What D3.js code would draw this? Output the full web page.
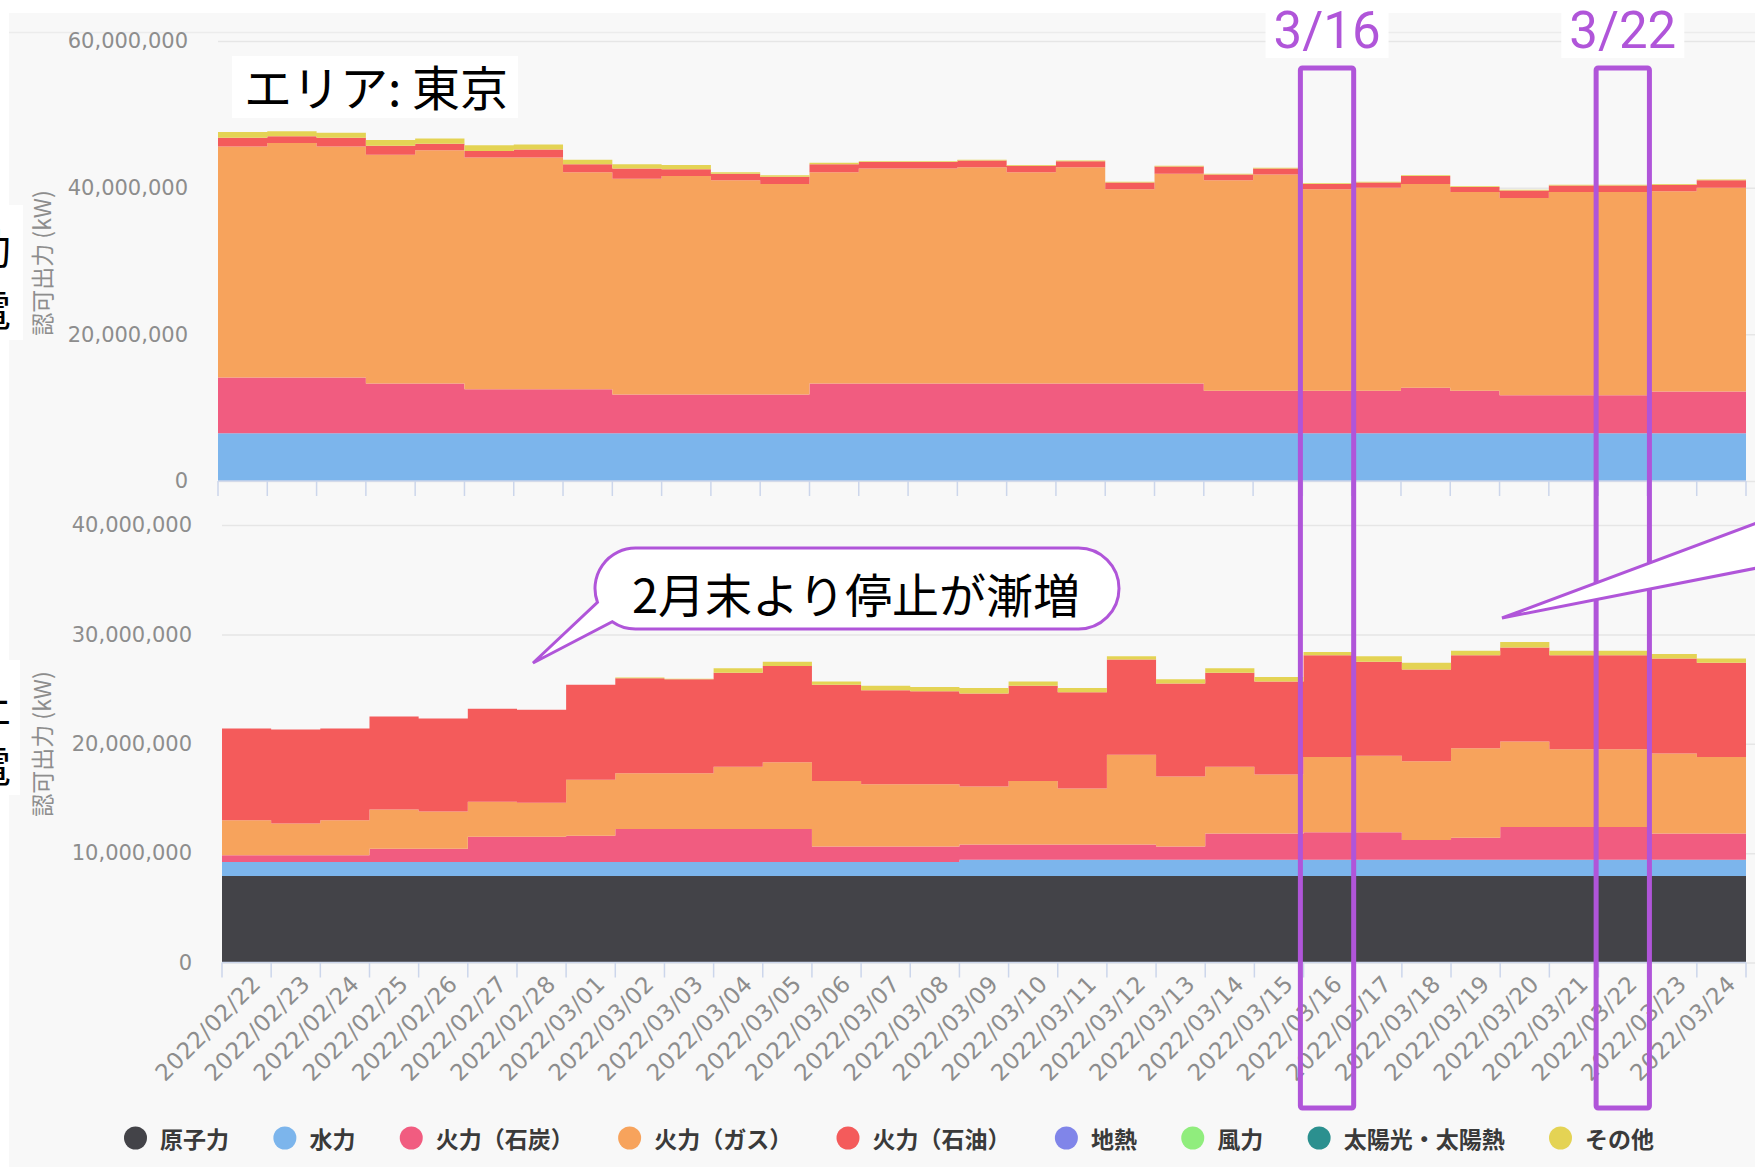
<!DOCTYPE html>
<html>
<head>
<meta charset="utf-8">
<script src="https://cdn.jsdelivr.net/npm/d3@7"></script>
<style>
html,body{margin:0;padding:0;background:#fff;}
svg{display:block;}
</style>
</head>
<body>
<svg id="c" width="1755" height="1167"></svg>
<script>
// ---------------- DATA ----------------
const dates = ["2022/02/22","2022/02/23","2022/02/24","2022/02/25","2022/02/26","2022/02/27","2022/02/28",
  "2022/03/01","2022/03/02","2022/03/03","2022/03/04","2022/03/05","2022/03/06","2022/03/07","2022/03/08",
  "2022/03/09","2022/03/10","2022/03/11","2022/03/12","2022/03/13","2022/03/14","2022/03/15","2022/03/16",
  "2022/03/17","2022/03/18","2022/03/19","2022/03/20","2022/03/21","2022/03/22","2022/03/23","2022/03/24"];

const seriesNames = ["原子力","水力","火力（石炭）","火力（ガス）","火力（石油）","地熱","風力","太陽光・太陽熱","その他"];
const seriesColors = ["#434348","#7cb5ec","#f15c80","#f7a35c","#f45b5b","#8085e9","#90ed7d","#2b908f","#e4d354"];

// Top chart (稼動) — values in million kW
const opNuclear = [0,0,0,0,0,0,0,0,0,0,0,0,0,0,0,0,0,0,0,0,0,0,0,0,0,0,0,0,0,0,0];
const opHydro   = [6.5,6.5,6.5,6.5,6.5,6.5,6.5,6.5,6.5,6.5,6.5,6.5,6.5,6.5,6.5,6.5,6.5,6.5,6.5,6.5,6.5,6.5,6.5,6.5,6.5,6.5,6.5,6.5,6.5,6.5,6.5];
const opCoal    = [7.6,7.6,7.6,6.8,6.8,6.0,6.0,6.0,5.3,5.3,5.3,5.3,6.8,6.8,6.8,6.8,6.8,6.8,6.8,6.8,5.8,5.8,5.8,5.8,6.2,5.8,5.2,5.2,5.2,5.7,5.7];
const opGas     = [31.5,32.0,31.5,31.2,31.8,31.6,31.6,29.6,29.4,29.8,29.2,28.7,28.8,29.3,29.3,29.5,28.8,29.5,26.5,28.6,28.7,29.5,27.5,27.7,27.8,27.1,26.9,27.7,27.7,27.3,27.8];
const opOil     = [1.2,0.9,1.2,1.2,0.9,0.9,1.1,1.1,1.4,0.9,0.9,1.0,1.1,0.9,0.9,0.9,0.9,0.8,0.9,1.0,0.8,0.8,0.7,0.7,1.1,0.7,1.0,0.9,0.9,0.9,1.0];
const opGeo     = [0,0,0,0,0,0,0,0,0,0,0,0,0,0,0,0,0,0,0,0,0,0,0,0,0,0,0,0,0,0,0];
const opWind    = [0,0,0,0,0,0,0,0,0,0,0,0,0,0,0,0,0,0,0,0,0,0,0,0,0,0,0,0,0,0,0];
const opSolar   = [0,0,0,0,0,0,0,0,0,0,0,0,0,0,0,0,0,0,0,0,0,0,0,0,0,0,0,0,0,0,0];
const opOther   = [0.8,0.7,0.7,0.8,0.7,0.8,0.7,0.6,0.6,0.6,0.2,0.2,0.2,0.1,0.1,0.1,0.1,0.1,0.1,0.1,0.1,0.1,0.1,0.1,0.1,0.1,0.1,0.1,0.1,0.1,0.1];

// Bottom chart (停止) — values in million kW
const stNuclear = [7.9,7.9,7.9,7.9,7.9,7.9,7.9,7.9,7.9,7.9,7.9,7.9,7.9,7.9,7.9,7.9,7.9,7.9,7.9,7.9,7.9,7.9,7.9,7.9,7.9,7.9,7.9,7.9,7.9,7.9,7.9];
const stHydro   = [1.3,1.3,1.3,1.3,1.3,1.3,1.3,1.3,1.3,1.3,1.3,1.3,1.3,1.3,1.3,1.5,1.5,1.5,1.5,1.5,1.5,1.5,1.5,1.5,1.5,1.5,1.5,1.5,1.5,1.5,1.5];
const stCoal    = [0.6,0.6,0.6,1.2,1.2,2.3,2.3,2.4,3.0,3.0,3.0,3.0,1.4,1.4,1.4,1.4,1.4,1.4,1.4,1.2,2.4,2.4,2.5,2.5,1.8,2.0,3.0,3.0,3.0,2.4,2.4];
const stGas     = [3.2,2.9,3.2,3.6,3.4,3.2,3.1,5.1,5.1,5.1,5.7,6.1,6.0,5.7,5.7,5.3,5.8,5.1,8.2,6.4,6.1,5.4,6.9,7.0,7.2,8.2,7.8,7.1,7.1,7.3,7.0];
const stOil     = [8.4,8.6,8.4,8.5,8.5,8.5,8.5,8.7,8.7,8.6,8.6,8.8,8.8,8.6,8.5,8.5,8.7,8.8,8.7,8.5,8.6,8.5,9.3,8.6,8.4,8.5,8.6,8.6,8.6,8.7,8.6];
const stGeo     = [0,0,0,0,0,0,0,0,0,0,0,0,0,0,0,0,0,0,0,0,0,0,0,0,0,0,0,0,0,0,0];
const stWind    = [0,0,0,0,0,0,0,0,0,0,0,0,0,0,0,0,0,0,0,0,0,0,0,0,0,0,0,0,0,0,0];
const stSolar   = [0,0,0,0,0,0,0,0,0,0,0,0,0,0,0,0,0,0,0,0,0,0,0,0,0,0,0,0,0,0,0];
const stOther   = [0,0,0,0,0,0,0,0,0.05,0.05,0.4,0.4,0.3,0.4,0.4,0.5,0.4,0.4,0.3,0.4,0.4,0.4,0.3,0.5,0.6,0.4,0.5,0.4,0.4,0.4,0.4];

const topTicks = [0, 20000000, 40000000, 60000000];
const bottomTicks = [0, 10000000, 20000000, 30000000, 40000000];

const areaTitle = "エリア: 東京";
const yTitle = "認可出力 (kW)";
const noteText = "2月末より停止が漸増";
const highlightDates = ["2022/03/16", "2022/03/22"];
const highlightLabels = ["3/16", "3/22"];

// ---------------- DRAW ----------------
const W = 1755, H = 1167;
const PURPLE = "#b055d9";
const svg = d3.select("#c");

svg.append("rect").attr("width", W).attr("height", H).attr("fill", "#fff");
svg.append("rect").attr("x", 9).attr("y", 13).attr("width", W - 9).attr("height", H - 13).attr("fill", "#f8f8f8");
svg.append("line").attr("x1", 9).attr("x2", W).attr("y1", 32.5).attr("y2", 32.5)
  .attr("stroke", "#ececec").attr("stroke-width", 1.5);

function buildTable(arrs) {
  return dates.map((d, i) => {
    const row = { date: d };
    seriesNames.forEach((s, k) => row[s] = arrs[k][i] * 1e6);
    return row;
  });
}

const charts = [
  { table: buildTable([opNuclear, opHydro, opCoal, opGas, opOil, opGeo, opWind, opSolar, opOther]),
    x0: 218, x1: 1746, yb: 481, yt: 41, max: 60000000, ticks: topTicks, labels: false, titleY: 263 },
  { table: buildTable([stNuclear, stHydro, stCoal, stGas, stOil, stGeo, stWind, stSolar, stOther]),
    x0: 222, x1: 1746, yb: 962.5, yt: 525, max: 40000000, ticks: bottomTicks, labels: true, titleY: 744 }
];

const fmt = d3.format(",");
const scales = [];

charts.forEach(c => {
  const x = d3.scaleLinear().domain([0, dates.length]).range([c.x0, c.x1]);
  const band = d3.scaleBand().domain(dates).range([c.x0, c.x1]).padding(0);
  const y = d3.scaleLinear().domain([0, c.max]).range([c.yb, c.yt]);
  scales.push({ x, band, y });

  // y axis with gridlines
  const ya = svg.append("g").attr("transform", `translate(${c.x0},0)`)
    .call(d3.axisLeft(y).tickValues(c.ticks).tickFormat(fmt).tickSize(-(W - c.x0)).tickPadding(30));
  ya.select(".domain").remove();
  ya.selectAll(".tick line").attr("stroke", "#e6e6e6").attr("stroke-width", 1.5);
  ya.selectAll(".tick text").attr("fill", "#8d8d8d")
    .style("font-family", "'DejaVu Sans', sans-serif").style("font-size", "21px");

  // y title
  svg.append("text").attr("transform", `translate(41,${c.titleY}) rotate(-90)`)
    .attr("text-anchor", "middle").attr("dominant-baseline", "central")
    .attr("fill", "#8d8d8d").style("font-family", "'Noto Sans CJK JP', sans-serif").style("font-size", "23px")
    .text(yTitle);

  // stacked step areas
  const stacked = d3.stack().keys(seriesNames)(c.table);
  const area = d3.area()
    .x(d => x(d.i)).y0(d => y(d.lo)).y1(d => y(d.hi))
    .curve(d3.curveStepAfter);
  stacked.forEach((layer, k) => {
    const pts = layer.map((d, i) => ({ i, lo: d[0], hi: d[1] }));
    const last = pts[pts.length - 1];
    pts.push({ i: dates.length, lo: last.lo, hi: last.hi });
    svg.append("path").attr("d", area(pts)).attr("fill", seriesColors[k]);
  });

  // x axis line and ticks
  svg.append("line").attr("x1", c.x0).attr("x2", c.x1).attr("y1", c.yb).attr("y2", c.yb)
    .attr("stroke", "#ccd6eb").attr("stroke-width", 1.5);
  svg.append("g").selectAll("line").data(d3.range(dates.length + 1)).join("line")
    .attr("x1", i => x(i)).attr("x2", i => x(i))
    .attr("y1", c.yb).attr("y2", c.yb + 15)
    .attr("stroke", "#ccd6eb").attr("stroke-width", 1.5);

  if (c.labels) {
    const xa = svg.append("g").attr("transform", `translate(0,${c.yb})`)
      .call(d3.axisBottom(band).tickSize(0));
    xa.select(".domain").remove();
    xa.selectAll(".tick text")
      .attr("x", 0).attr("y", 0).attr("dy", "0.35em")
      .attr("text-anchor", "end")
      .attr("transform", "translate(10,17) rotate(-45)")
      .attr("fill", "#8d8d8d")
      .style("font-family", "'DejaVu Sans', sans-serif").style("font-size", "23px")
      .style("letter-spacing", "0.5px");
  }
});

// legend
const lg = svg.append("g").style("font-family", "'Noto Sans CJK JP', sans-serif")
  .style("font-size", "23px").style("font-weight", "bold");
const legendY = 1138;
const tmp = lg.append("text").attr("opacity", 0);
const widths = seriesNames.map(s => { tmp.text(s); return tmp.node().getComputedTextLength(); });
tmp.remove();
const lgStart = 124, lgEnd = 1654, txtOff = 36;
const gap = (lgEnd - lgStart - txtOff * seriesNames.length - d3.sum(widths)) / (seriesNames.length - 1);
let lx = lgStart;
seriesNames.forEach((s, k) => {
  lg.append("circle").attr("cx", lx + 11.5).attr("cy", legendY).attr("r", 11.5).attr("fill", seriesColors[k]);
  lg.append("text").attr("x", lx + txtOff).attr("y", legendY).attr("dominant-baseline", "central")
    .attr("fill", "#3a3a3a").text(s);
  lx += txtOff + widths[k] + gap;
});

// area title box
svg.append("rect").attr("x", 232).attr("y", 56).attr("width", 286).attr("height", 62).attr("fill", "#fff");
svg.append("text").attr("x", 244).attr("y", 106).attr("fill", "#000")
  .style("font-family", "'Noto Sans CJK JP', sans-serif").style("font-size", "48px").text(areaTitle);

// speech bubble (left)
{
  const x0 = 595, x1 = 1119, y0 = 548, y1 = 629, r = (y1 - y0) / 2;
  const cx = x0 + r, cy = y0 + r;
  const pt = a => [cx + r * Math.cos(a * Math.PI / 180), cy + r * Math.sin(a * Math.PI / 180)];
  const b2 = pt(125), b1 = pt(160);
  const tip = [533, 663];
  const d = `M${x0 + r},${y0} L${x1 - r},${y0} A${r},${r} 0 0 1 ${x1 - r},${y1} L${x0 + r},${y1} ` +
    `A${r},${r} 0 0 1 ${b2[0]},${b2[1]} L${tip[0]},${tip[1]} L${b1[0]},${b1[1]} ` +
    `A${r},${r} 0 0 1 ${x0 + r},${y0} Z`;
  svg.append("path").attr("d", d).attr("fill", "#fff").attr("stroke", PURPLE).attr("stroke-width", 3)
    .attr("stroke-linejoin", "miter");
  svg.append("text").attr("x", (x0 + x1) / 2 - 1).attr("y", 613).attr("text-anchor", "middle").attr("fill", "#000")
    .style("font-family", "'Noto Sans CJK JP', sans-serif").style("font-size", "47px").text(noteText);
}

// highlight rectangles and labels
const sTop = scales[0];
highlightDates.forEach((d, k) => {
  const i = dates.indexOf(d);
  const xa = sTop.x(i), xb = sTop.x(i + 1);
  svg.append("rect").attr("x", xa - 2).attr("y", 68).attr("width", xb - xa + 4).attr("height", 1040)
    .attr("fill", "none").attr("stroke", PURPLE).attr("stroke-width", 5).attr("rx", 2);
  const cxm = (xa + xb) / 2;
  const g = svg.append("g");
  const t = g.append("text").attr("x", cxm).attr("y", 48).attr("text-anchor", "middle").attr("fill", PURPLE)
    .style("font-family", "Roboto, sans-serif").style("font-size", "51px").text(highlightLabels[k]);
  const bb = t.node().getBBox();
  g.insert("rect", "text").attr("x", bb.x - 8).attr("y", 0).attr("width", bb.width + 16).attr("height", 58).attr("fill", "#fff");
});

// speech bubble tail (right, bubble itself off-canvas)
svg.append("path").attr("d", "M1762,521 L1502,618 L1762,567")
  .attr("fill", "#fff").attr("stroke", PURPLE).attr("stroke-width", 3).attr("stroke-linejoin", "miter");

// cut-off side labels at the left edge
svg.append("rect").attr("x", 0).attr("y", 205).attr("width", 23).attr("height", 135).attr("fill", "#fff");
svg.append("rect").attr("x", 0).attr("y", 660).attr("width", 20).attr("height", 135).attr("fill", "#fff");
const side = svg.append("g").attr("fill", "#000").style("font-family", "'Noto Sans CJK JP', sans-serif").style("font-size", "42px")
  .attr("text-anchor", "end");
side.append("text").attr("x", 11).attr("y", 264).text("稼動");
side.append("text").attr("x", 11).attr("y", 326).text("発電");
side.append("text").attr("x", 11).attr("y", 722).text("停止");
side.append("text").attr("x", 11).attr("y", 782).text("発電");
</script>
</body>
</html>
